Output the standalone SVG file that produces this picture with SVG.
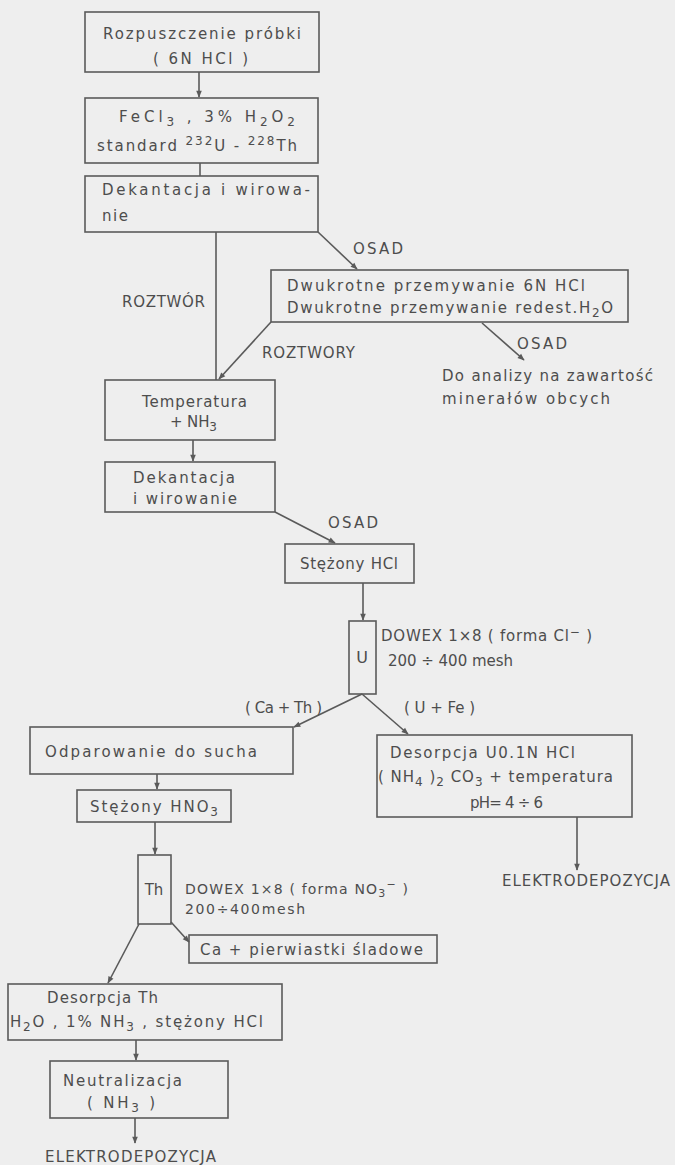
<svg xmlns="http://www.w3.org/2000/svg" width="675" height="1165" viewBox="0 0 675 1165">
<style>
text{font-family:"DejaVu Sans","Liberation Sans",sans-serif;font-size:15px;fill:#4d4d4d}
.box{fill:none;stroke:#5a5a5a;stroke-width:1.6}
.ln{fill:none;stroke:#5a5a5a;stroke-width:1.6}
.sub{font-size:12px}
.sm{font-size:14px}
.sm .sub{font-size:11px}
</style>
<defs>
<marker id="ah" viewBox="0 0 10 10" refX="9" refY="5" markerWidth="9" markerHeight="7" markerUnits="userSpaceOnUse" orient="auto">
<path d="M0,1 L10,5 L0,9 z" fill="#5a5a5a"/>
</marker>
</defs>
<rect width="675" height="1165" fill="#eeeeee"/>
<g id="connectors">
<line class="ln" x1="199" y1="72" x2="199" y2="97" marker-end="url(#ah)"/>
<line class="ln" x1="200" y1="163" x2="200" y2="176"/>
<line class="ln" x1="216" y1="232" x2="216" y2="380"/>
<line class="ln" x1="318" y1="232" x2="357" y2="269" marker-end="url(#ah)"/>
<line class="ln" x1="271" y1="322" x2="219" y2="379" marker-end="url(#ah)"/>
<line class="ln" x1="482" y1="323" x2="524" y2="360" marker-end="url(#ah)"/>
<line class="ln" x1="193" y1="440" x2="193" y2="461" marker-end="url(#ah)"/>
<line class="ln" x1="275" y1="512" x2="335" y2="543" marker-end="url(#ah)"/>
<line class="ln" x1="363" y1="583" x2="363" y2="620" marker-end="url(#ah)"/>
<line class="ln" x1="362" y1="694" x2="294" y2="727" marker-end="url(#ah)"/>
<line class="ln" x1="362" y1="694" x2="408" y2="734" marker-end="url(#ah)"/>
<line class="ln" x1="157" y1="774" x2="157" y2="789" marker-end="url(#ah)"/>
<line class="ln" x1="577" y1="817" x2="577" y2="870" marker-end="url(#ah)"/>
<line class="ln" x1="155" y1="822" x2="155" y2="854" marker-end="url(#ah)"/>
<line class="ln" x1="139" y1="924" x2="108" y2="983" marker-end="url(#ah)"/>
<line class="ln" x1="171" y1="922" x2="189" y2="942" marker-end="url(#ah)"/>
<line class="ln" x1="136" y1="1040" x2="136" y2="1060" marker-end="url(#ah)"/>
<line class="ln" x1="135" y1="1118" x2="135" y2="1143" marker-end="url(#ah)"/>
</g>
<g id="labels">
<text x="122" y="307" textLength="83" lengthAdjust="spacing">ROZTWÓR</text>
<text x="353" y="254" textLength="50" lengthAdjust="spacing">OSAD</text>
<text x="262" y="358" textLength="93" lengthAdjust="spacing">ROZTWORY</text>
<text x="517" y="349" textLength="50" lengthAdjust="spacing">OSAD</text>
<text x="328" y="528" textLength="50" lengthAdjust="spacing">OSAD</text>
<text x="245" y="713" textLength="77" lengthAdjust="spacing">( Ca + Th )</text>
<text x="404" y="713" textLength="71" lengthAdjust="spacing">( U + Fe )</text>
<text x="502" y="886" textLength="168" lengthAdjust="spacing">ELEKTRODEPOZYCJA</text>
<text x="45" y="1162" textLength="171" lengthAdjust="spacing">ELEKTRODEPOZYCJA</text>
</g>
<g id="n1">
<rect class="box" x="85" y="12" width="234" height="60"/>
<text x="103" y="39" textLength="198" lengthAdjust="spacing">Rozpuszczenie próbki</text>
<text x="153" y="64" textLength="95" lengthAdjust="spacing">( 6N  HCl )</text>
</g>
<g id="n2">
<rect class="box" x="85" y="98" width="233" height="65"/>
<text x="119" y="122" textLength="176" lengthAdjust="spacing">FeCl<tspan class="sub" dy="4">3</tspan><tspan dy="-4"> , 3% H</tspan><tspan class="sub" dy="4">2</tspan><tspan dy="-4">O</tspan><tspan class="sub" dy="4">2</tspan></text>
<text x="97" y="151" textLength="200" lengthAdjust="spacing">standard <tspan class="sub" dy="-6">232</tspan><tspan dy="6">U - </tspan><tspan class="sub" dy="-6">228</tspan><tspan dy="6">Th</tspan></text>
</g>
<g id="n3">
<rect class="box" x="85" y="176" width="233" height="56"/>
<text x="102" y="195" textLength="208" lengthAdjust="spacing">Dekantacja i wirowa-</text>
<text x="102" y="221" textLength="26" lengthAdjust="spacing">nie</text>
</g>
<g id="n4">
<rect class="box" x="271" y="270" width="357" height="52"/>
<text x="287" y="291" textLength="298" lengthAdjust="spacing">Dwukrotne  przemywanie  6N HCl</text>
<text x="287" y="313" textLength="326" lengthAdjust="spacing">Dwukrotne  przemywanie redest.H<tspan class="sub" dy="4">2</tspan><tspan dy="-4">O</tspan></text>
</g>
<g id="n5">
<text x="442" y="381" textLength="211" lengthAdjust="spacing">Do analizy na zawartość</text>
<text x="442" y="404" textLength="168" lengthAdjust="spacing">minerałów  obcych</text>
</g>
<g id="n6">
<rect class="box" x="105" y="380" width="170" height="60"/>
<text x="142" y="407" textLength="105" lengthAdjust="spacing">Temperatura</text>
<text x="170" y="427" textLength="47" lengthAdjust="spacing">+ NH<tspan class="sub" dy="4">3</tspan></text>
</g>
<g id="n7">
<rect class="box" x="105" y="462" width="170" height="50"/>
<text x="133" y="483" textLength="102" lengthAdjust="spacing">Dekantacja</text>
<text x="133" y="504" textLength="104" lengthAdjust="spacing">i wirowanie</text>
</g>
<g id="n8">
<rect class="box" x="285" y="544" width="129" height="39"/>
<text x="300" y="569" textLength="98" lengthAdjust="spacing">Stężony HCl</text>
</g>
<g id="n9">
<rect class="box" x="349" y="621" width="27" height="73"/>
<text x="362" y="663" text-anchor="middle" style="font-size:16px">U</text>
<text x="381" y="641" textLength="211" lengthAdjust="spacing">DOWEX 1×8 ( forma Cl<tspan class="sub" dy="-5">−</tspan><tspan dy="5"> )</tspan></text>
<text x="388" y="666" textLength="125" lengthAdjust="spacing">200 ÷ 400 mesh</text>
</g>
<g id="n10">
<rect class="box" x="30" y="727" width="263" height="47"/>
<text x="45" y="757" textLength="212" lengthAdjust="spacing">Odparowanie  do sucha</text>
</g>
<g id="n11">
<rect class="box" x="377" y="735" width="255" height="82"/>
<text x="390" y="758" textLength="185" lengthAdjust="spacing">Desorpcja U0.1N HCl</text>
<text x="378" y="782" textLength="235" lengthAdjust="spacing">( NH<tspan class="sub" dy="4">4</tspan><tspan dy="-4"> )</tspan><tspan class="sub" dy="4">2</tspan><tspan dy="-4"> CO</tspan><tspan class="sub" dy="4">3</tspan><tspan dy="-4">  + temperatura</tspan></text>
<text x="470" y="808" textLength="73" lengthAdjust="spacing">pH= 4 ÷ 6</text>
</g>
<g id="n12">
<rect class="box" x="77" y="790" width="154" height="32"/>
<text x="90" y="812" textLength="128" lengthAdjust="spacing">Stężony HNO<tspan class="sub" dy="4">3</tspan></text>
</g>
<g id="n13">
<rect class="box" x="138" y="855" width="33" height="69"/>
<text x="154" y="895" text-anchor="middle">Th</text>
<text class="sm" x="185" y="894" textLength="223" lengthAdjust="spacing">DOWEX 1×8 ( forma NO<tspan class="sub" dy="3">3</tspan><tspan class="sub" dy="-9">−</tspan><tspan dy="6"> )</tspan></text>
<text class="sm" x="185" y="914" textLength="120" lengthAdjust="spacing">200÷400mesh</text>
</g>
<g id="n14">
<rect class="box" x="189" y="935" width="248" height="28"/>
<text x="200" y="955" textLength="223" lengthAdjust="spacing">Ca + pierwiastki  śladowe</text>
</g>
<g id="n15">
<rect class="box" x="8" y="984" width="274" height="56"/>
<text x="47" y="1003" textLength="111" lengthAdjust="spacing">Desorpcja Th</text>
<text x="10" y="1027" textLength="253" lengthAdjust="spacing">H<tspan class="sub" dy="4">2</tspan><tspan dy="-4">O , 1% NH</tspan><tspan class="sub" dy="4">3</tspan><tspan dy="-4"> , stężony HCl</tspan></text>
</g>
<g id="n16">
<rect class="box" x="50" y="1061" width="178" height="57"/>
<text x="63" y="1086" textLength="119" lengthAdjust="spacing">Neutralizacja</text>
<text x="87" y="1108" textLength="68" lengthAdjust="spacing">( NH<tspan class="sub" dy="4">3</tspan><tspan dy="-4"> )</tspan></text>
</g>
</svg>
